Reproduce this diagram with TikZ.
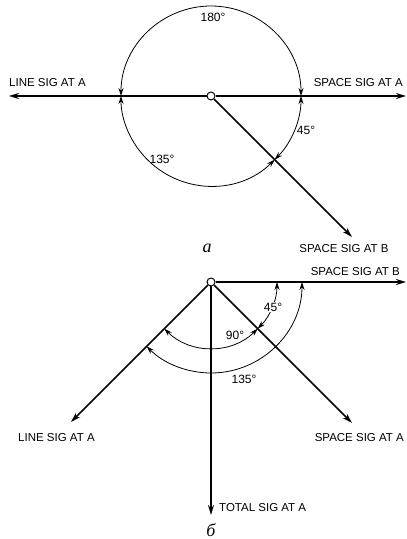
\documentclass[tikz,border=0pt]{standalone}
\usepackage{fontspec}
\setmainfont{Liberation Sans}
\newfontfamily\cyrfont{Liberation Serif}
\usetikzlibrary{arrows.meta}
\tikzset{
  vec/.style={line width=1.6pt,-{Stealth[length=10pt,width=6pt]}},
  arcline/.style={line width=0.8pt,{Stealth[length=8pt,width=5pt]}-{Stealth[length=8pt,width=5pt]}},
  lbl/.style={font=\fontsize{11.5}{13}\selectfont,inner sep=1pt},
  deg/.style={font=\fontsize{12}{14}\selectfont,inner sep=1pt},
  hub/.style={circle,draw,line width=1pt,fill=white,minimum size=8pt,inner sep=0pt},
  capmark/.style={font=\cyrfont\itshape\fontsize{18}{20}\selectfont,inner sep=0pt},
}

\begin{document}
\begin{tikzpicture}[x=1pt,y=1pt]
\path[use as bounding box] (0,0) rectangle (407,539);
% a
\node[hub] (Oa) at (211,443) {};
\coordinate (LAa) at (9,443);
\coordinate (SAa) at (406,443);
\coordinate (SBa) at (352,302);
\draw[arcline] ([shift={(0:90)}]Oa.center) arc[start angle=0,end angle=180,radius=90];
\draw[arcline] ([shift={(0:90)}]Oa.center) arc[start angle=0,end angle=-45,radius=90];
\draw[arcline] ([shift={(-45:90)}]Oa.center) arc[start angle=-45,end angle=-180,radius=90];
\draw[vec] (Oa) -- (LAa);
\draw[vec] (Oa) -- (SAa);
\draw[vec] (Oa) -- (SBa);
\node[lbl,anchor=west] (tLAa) at (8,456) {LINE SIG AT A};
\node[lbl,anchor=east] (tSAa) at (404,456) {SPACE SIG AT A};
\node[lbl] (tSBa) at (344,290) {SPACE SIG AT B};
\node[deg] (d180a) at (213,522) {180°};
\node[deg] (d45a) at (306,409) {45°};
\node[deg] (d135a) at (162,380) {135°};
\node[capmark] (capa) at (207,291) {а};
% b
\node[hub] (Ob) at (211,257) {};
\coordinate (SBb) at (406,257);
\coordinate (LAb) at (71,117);
\coordinate (SAb) at (352,116);
\coordinate (TAb) at (211,24);
\draw[arcline] ([shift={(0:91)}]Ob.center) arc[start angle=0,end angle=-135,radius=91];
\draw[arcline] ([shift={(-45:66)}]Ob.center) arc[start angle=-45,end angle=-135,radius=66];
\draw[arcline] ([shift={(0:66)}]Ob.center) arc[start angle=0,end angle=-45,radius=66];
\draw[vec] (Ob) -- (SBb);
\draw[vec] (Ob) -- (LAb);
\draw[vec] (Ob) -- (SAb);
\draw[vec] (Ob) -- (TAb);
\node[lbl,anchor=east] (tSBb) at (401,267) {SPACE SIG AT B};
\node[lbl,anchor=west] (tLAb) at (17,101) {LINE SIG AT A};
\node[lbl,anchor=east] (tSAb) at (405,101) {SPACE SIG AT A};
\node[lbl,anchor=west] (tTAb) at (218,31) {TOTAL SIG AT A};
\node[deg,fill=white] (d45b) at (273,232) {45°};
\node[deg] (d90b) at (235,204) {90°};
\node[deg] (d135b) at (244,160) {135°};
\node[capmark] (capb) at (211,9) {б};
\end{tikzpicture}
\end{document}
